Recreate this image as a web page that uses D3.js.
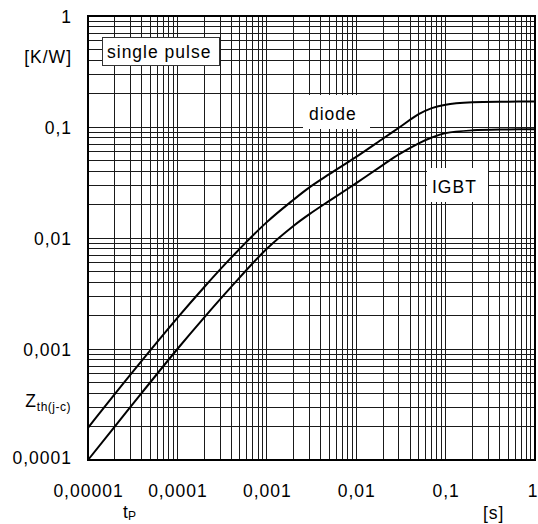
<!DOCTYPE html>
<html><head><meta charset="utf-8">
<script src="https://cdn.jsdelivr.net/npm/d3@7"></script>
<style>body{margin:0;background:#fff}svg{display:block;font-family:"Liberation Sans",Arial,sans-serif}</style>
</head><body><svg id="c" width="538" height="524"></svg>
<script>
const timeS = [1e-5, 3e-5, 1e-4, 2e-4, 4e-4, 1e-3, 2e-3, 3e-3, 5e-3, 1e-2, 2e-2, 3e-2, 5e-2, 7e-2, 0.1, 0.2, 0.5, 1];
const diodeZth = [1.95e-4, 5.9e-4, 1.905e-3, 3.62e-3, 6.65e-3, 0.0139, 0.0222, 0.0286, 0.0376, 0.0538, 0.0787, 0.0984, 0.1303, 0.148, 0.159, 0.1667, 0.169, 0.17];
const igbtZth = [1.0e-4, 3.02e-4, 1.0e-3, 1.93e-3, 3.63e-3, 8.0e-3, 0.0129, 0.0164, 0.0216, 0.0312, 0.0456, 0.0566, 0.0713, 0.0804, 0.0881, 0.0933, 0.095, 0.0955];
const xTicks = [1e-5, 1e-4, 1e-3, 1e-2, 0.1, 1];
const xTickLabels = ["0,00001", "0,0001", "0,001", "0,01", "0,1", "1"];
const yTicks = [1e-4, 1e-3, 1e-2, 0.1, 1];
const yTickLabels = ["0,0001", "0,001", "0,01", "0,1", "1"];

const svg = d3.select("#c");
const L = 88, R = 535, T = 16, B = 460;
const x = d3.scaleLog().domain([1e-5, 1]).range([L, R]);
const y = d3.scaleLog().domain([1e-4, 1]).range([B, T]);

// grid
const xg = [], yg = [];
for (let e = -5; e < 0; e++) for (let m = 1; m <= 9; m++) xg.push(m * Math.pow(10, e));
for (let e = -4; e < 0; e++) for (let m = 1; m <= 9; m++) yg.push(m * Math.pow(10, e));
const g = svg.append("g").attr("shape-rendering", "crispEdges").attr("stroke", "#1a1a1a").attr("stroke-width", 1);
g.selectAll(".vx").data(xg).join("line").attr("x1", d => x(d)).attr("x2", d => x(d)).attr("y1", T).attr("y2", B);
g.selectAll(".hy").data(yg).join("line").attr("y1", d => y(d)).attr("y2", d => y(d)).attr("x1", L).attr("x2", R);

// label boxes (mask grid)
svg.append("rect").attr("x", 303).attr("y", 95).attr("width", 67).attr("height", 34).attr("fill", "#fff");
svg.append("rect").attr("x", 427).attr("y", 168).attr("width", 61).attr("height", 34).attr("fill", "#fff");
svg.append("rect").attr("x", 102.5).attr("y", 37.5).attr("width", 117).attr("height", 28).attr("fill", "#fff").attr("stroke", "#333").attr("stroke-width", 1);

// curves
const line = d3.line().x(d => x(d[0])).y(d => y(d[1])).curve(d3.curveCatmullRom.alpha(0.5));
[diodeZth, igbtZth].forEach(s => {
  svg.append("path").datum(timeS.map((t, i) => [t, s[i]])).attr("d", line)
    .attr("fill", "none").attr("stroke", "#000").attr("stroke-width", 2);
});

// frame
svg.append("rect").attr("x", L).attr("y", T).attr("width", R - L).attr("height", B - T)
  .attr("fill", "none").attr("stroke", "#000").attr("stroke-width", 2);

const fs = "17.5px", ls = "1px";
const xa = d3.axisBottom(x).tickValues(xTicks).tickFormat((d, i) => xTickLabels[i]).tickSize(0).tickPadding(0);
const xgA = svg.append("g").attr("transform", `translate(0,${B})`).call(xa);
xgA.select(".domain").remove();
xgA.selectAll("text").attr("dy", null).attr("y", 37).attr("font-size", fs).attr("letter-spacing", ls).attr("fill", "#000").attr("font-family", null)
  .attr("text-anchor", d => d === 1 ? "end" : "middle").attr("x", d => d === 1 ? 3 : 0);

const ya = d3.axisLeft(y).tickValues(yTicks).tickFormat((d, i) => yTickLabels[i]).tickSize(0).tickPadding(0);
const ygA = svg.append("g").attr("transform", `translate(72,0)`).call(ya);
ygA.select(".domain").remove();
ygA.selectAll("text").attr("dy", "0.35em").attr("x", 0).attr("font-size", fs).attr("letter-spacing", ls).attr("fill", "#000").attr("font-family", null)
  .attr("y", d => d === 1e-4 ? -3 : 0);

function txt(xp, yp, s, anchor) {
  return svg.append("text").attr("x", xp).attr("y", yp).attr("font-size", fs).attr("letter-spacing", ls)
    .attr("text-anchor", anchor || "start").text(s);
}
txt(72, 63, "[K/W]", "end");
txt(107, 58, "single pulse");
txt(309, 120, "diode");
txt(432, 193, "IGBT");
txt(483, 519, "[s]");
const z = svg.append("text").attr("x", 71).attr("y", 407).attr("text-anchor", "end").attr("font-size", fs).attr("letter-spacing", ls);
z.append("tspan").text("Z");
z.append("tspan").attr("font-size", "12px").attr("dy", 4).attr("letter-spacing", "0.5px").text("th(j-c)");
const tp = svg.append("text").attr("x", 123).attr("y", 518).attr("font-size", fs);
tp.append("tspan").text("t");
tp.append("tspan").attr("font-size", "12px").attr("dy", 2).text("P");
</script></body></html>
